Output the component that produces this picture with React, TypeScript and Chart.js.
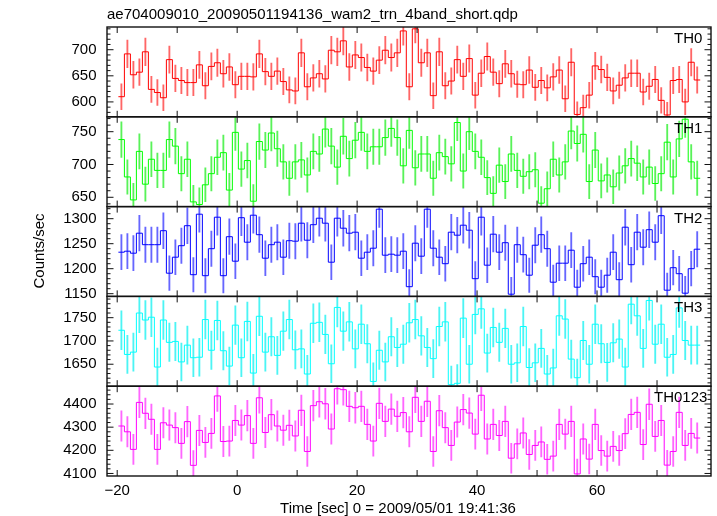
import React, { useEffect, useRef } from 'react';
import { Chart, registerables } from 'chart.js';

Chart.register(...registerables);

const FONT = '"Liberation Sans", Arial, Helvetica, sans-serif';

const TITLE = 'ae704009010_20090501194136_wam2_trn_4band_short.qdp';
const X_TITLE = 'Time [sec] 0 = 2009/05/01 19:41:36';
const Y_TITLE = 'Counts/sec';

// 1-s bins, left edge of first bin
const BIN_START = -19.8;
const BIN_WIDTH = 1;

const X_MIN = -21.7;
const X_MAX = 79;
const X_TICKS = [-20, -10, 0, 10, 20, 30, 40, 50, 60, 70];
const X_LABELS = [-20, 0, 20, 40, 60];

const PANELS = ['TH0', 'TH1', 'TH2', 'TH3', 'TH0123'];

const TH0 = [
  610, 692, 652, 657, 696, 624, 618, 608, 681, 645,
  641, 637, 637, 671, 631, 668, 675, 654, 667, 633,
  649, 649, 648, 692, 658, 649, 659, 639, 623, 621,
  694, 629, 646, 654, 644, 699, 696, 717, 667, 690,
  685, 666, 659, 680, 699, 685, 694, 736, 629, 740,
  675, 694, 612, 696, 631, 640, 681, 649, 683, 613,
  655, 687, 657, 635, 673, 654, 634, 633, 661, 628,
  641, 627, 648, 661, 606, 676, 576, 589, 613, 669,
  662, 647, 621, 632, 646, 655, 655, 619, 630, 643,
  603, 575, 641, 643, 600, 676, 642,
];

const TH1 = [
  738, 681, 646, 720, 670, 708, 691, 691, 738, 728,
  686, 708, 643, 639, 669, 686, 711, 718, 661, 749,
  693, 706, 644, 735, 722, 748, 724, 704, 679, 704,
  707, 684, 720, 716, 754, 728, 696, 743, 709, 737,
  749, 720, 727, 727, 741, 755, 741, 698, 752, 695,
  716, 716, 679, 718, 712, 701, 764, 690, 750, 720,
  711, 680, 656, 699, 674, 716, 691, 682, 689, 692,
  641, 663, 708, 684, 704, 751, 732, 746, 674, 722,
  675, 684, 666, 687, 698, 709, 702, 681, 696, 671,
  686, 734, 681, 739, 769, 704, 679,
];

const TH2 = [
  1233, 1235, 1231, 1271, 1248, 1248, 1248, 1276, 1191, 1223,
  1246, 1286, 1188, 1309, 1186, 1240, 1303, 1186, 1264, 1215,
  1302, 1253, 1307, 1268, 1221, 1248, 1253, 1223, 1256, 1255,
  1291, 1257, 1288, 1301, 1291, 1213, 1301, 1281, 1271, 1273,
  1221, 1233, 1241, 1319, 1227, 1229, 1227, 1235, 1164, 1251,
  1225, 1319, 1241, 1223, 1210, 1273, 1267, 1287, 1277, 1180,
  1303, 1207, 1269, 1233, 1252, 1149, 1248, 1228, 1187, 1247,
  1268, 1240, 1173, 1211, 1211, 1237, 1163, 1210, 1223, 1184,
  1163, 1187, 1233, 1178, 1283, 1208, 1273, 1243, 1278, 1253,
  1306, 1157, 1202, 1190, 1151, 1200, 1239,
];

const TH3 = [
  1723, 1671, 1676, 1760, 1745, 1751, 1644, 1745, 1697, 1699,
  1655, 1691, 1664, 1665, 1746, 1680, 1744, 1679, 1646, 1734,
  1664, 1742, 1631, 1753, 1676, 1709, 1669, 1721, 1746, 1681,
  1683, 1629, 1738, 1740, 1714, 1651, 1772, 1721, 1741, 1683,
  1736, 1694, 1613, 1680, 1655, 1709, 1686, 1693, 1739, 1746,
  1711, 1686, 1662, 1731, 1741, 1606, 1609, 1749, 1650, 1757,
  1769, 1674, 1729, 1697, 1727, 1650, 1653, 1731, 1643, 1653,
  1684, 1629, 1642, 1754, 1747, 1661, 1621, 1701, 1650, 1736,
  1694, 1654, 1696, 1704, 1644, 1779, 1754, 1684, 1787, 1693,
  1736, 1665, 1671, 1771, 1701, 1691, 1691,
];

const TH0123 = [
  4305, 4280, 4204, 4407, 4360, 4334, 4204, 4319, 4309, 4298,
  4230, 4324, 4135, 4286, 4234, 4273, 4435, 4238, 4240, 4329,
  4309, 4350, 4230, 4427, 4277, 4354, 4305, 4287, 4308, 4262,
  4373, 4195, 4393, 4410, 4401, 4292, 4466, 4462, 4390, 4384,
  4390, 4312, 4240, 4403, 4325, 4378, 4347, 4363, 4280, 4429,
  4325, 4412, 4195, 4371, 4298, 4221, 4322, 4376, 4361, 4270,
  4438, 4249, 4312, 4264, 4325, 4166, 4228, 4275, 4182, 4221,
  4236, 4161, 4175, 4312, 4270, 4325, 4098, 4249, 4162, 4312,
  4199, 4175, 4217, 4199, 4272, 4355, 4364, 4225, 4399, 4260,
  4329, 4136, 4195, 4364, 4221, 4273, 4253,
];

const SERIES = [TH0, TH1, TH2, TH3, TH0123];

const Y_MIN = [571.5, 635.8, 1144.6, 1602.8, 4089];
const Y_MAX = [743.5, 772.7, 1324.2, 1795.7, 4477];
const Y_MINOR = [10, 10, 10, 10, 20];
const Y_LABELS = [
  [600, 650, 700],
  [650, 700, 750],
  [1150, 1200, 1250, 1300],
  [1650, 1700, 1750],
  [4100, 4200, 4300, 4400],
];

const LINE_COLORS = ['#ff0000', '#00ff00', '#0000ff', '#00ffff', '#ff00ff'];
const ERR_COLORS = [
  'rgba(255,0,0,0.6)',
  'rgba(0,235,0,0.65)',
  'rgba(0,0,255,0.6)',
  'rgba(0,240,240,0.7)',
  'rgba(255,0,255,0.6)',
];
const PANEL_LABEL_X = [674, 674, 674, 674, 654];

const fmtX = (v: number) => (v < 0 ? '\u2212' + Math.abs(v) : String(v));

function minorTicks(min: number, max: number, step: number) {
  const out: number[] = [];
  for (let v = Math.ceil(min / step) * step; v <= max + 1e-9; v += step) {
    out.push(Math.round(v * 1000) / 1000);
  }
  return out;
}

const framePlugin = {
  id: 'qdpFrame',
  afterDatasetsDraw(chart: any) {
    const ctx = chart.ctx as CanvasRenderingContext2D;
    const { left, right } = chart.chartArea;
    const xs = chart.scales.x;
    ctx.save();
    ctx.strokeStyle = '#111';
    ctx.fillStyle = '#000';
    PANELS.forEach((name, p) => {
      const ys = chart.scales['y' + p];
      const top = ys.top;
      const bottom = ys.bottom;
      ctx.lineWidth = 1;
      ctx.beginPath();
      ys.ticks.forEach((t: any) => {
        const py = ys.getPixelForValue(t.value);
        const major = Y_LABELS[p].includes(t.value) || Math.abs(t.value % (Y_MINOR[p] * 5)) < 1e-6;
        const len = major ? 6.5 : 3.5;
        ctx.moveTo(left, py);
        ctx.lineTo(left + len, py);
        ctx.moveTo(right, py);
        ctx.lineTo(right - len, py);
      });
      xs.ticks.forEach((t: any) => {
        const px = xs.getPixelForValue(t.value);
        ctx.moveTo(px, top);
        ctx.lineTo(px, top + 6);
        ctx.moveTo(px, bottom);
        ctx.lineTo(px, bottom - 6);
      });
      ctx.stroke();
      ctx.lineWidth = 1.4;
      ctx.strokeRect(left, top, right - left, bottom - top);
      ctx.font = `15px ${FONT}`;
      ctx.textAlign = 'left';
      ctx.textBaseline = 'alphabetic';
      ctx.fillText(name, PANEL_LABEL_X[p], top + 16);
    });
    ctx.font = `15px ${FONT}`;
    ctx.textAlign = 'left';
    ctx.textBaseline = 'alphabetic';
    ctx.fillText(TITLE, left, 18.5);
    ctx.textAlign = 'center';
    ctx.fillText(X_TITLE, 398, 513);
    ctx.translate(40, 251);
    ctx.rotate(-Math.PI / 2);
    ctx.textBaseline = 'middle';
    ctx.fillText(Y_TITLE, 0, 0);
    ctx.restore();
  },
};

function buildConfig(): any {
  const datasets: any[] = [];
  SERIES.forEach((vals, p) => {
    const steps = vals.map((v, i) => ({ x: BIN_START + i * BIN_WIDTH, y: v }));
    steps.push({ x: BIN_START + vals.length * BIN_WIDTH, y: vals[vals.length - 1] });
    datasets.push({
      type: 'line',
      label: PANELS[p],
      data: steps,
      yAxisID: 'y' + p,
      stepped: true,
      borderColor: LINE_COLORS[p],
      borderWidth: 1,
      pointRadius: 0,
      fill: false,
      order: 0,
    });
    datasets.push({
      type: 'bar',
      label: PANELS[p] + ' err',
      data: vals.map((v, i) => ({
        x: BIN_START + (i + 0.5) * BIN_WIDTH,
        y: [v - Math.sqrt(v), v + Math.sqrt(v)],
      })),
      yAxisID: 'y' + p,
      grouped: false,
      barThickness: 1.2,
      maxBarThickness: 1.2,
      backgroundColor: ERR_COLORS[p],
      borderWidth: 0,
      order: 1,
    });
  });

  const scales: any = {
    x: {
      type: 'linear',
      position: 'bottom',
      min: X_MIN,
      max: X_MAX,
      bounds: 'data',
      offset: false,
      grid: { display: false, drawTicks: false },
      border: { display: false },
      afterBuildTicks: (s: any) => {
        s.ticks = X_TICKS.map((v) => ({ value: v }));
      },
      afterFit: (s: any) => {
        s.height = 40;
      },
      ticks: {
        autoSkip: false,
        maxRotation: 0,
        minRotation: 0,
        padding: 6,
        color: '#000',
        font: { size: 15, family: FONT },
        callback: (v: any) => (X_LABELS.includes(Number(v)) ? fmtX(Number(v)) : ''),
      },
    },
  };
  for (let p = PANELS.length - 1; p >= 0; p--) {
    const tickVals = minorTicks(Y_MIN[p], Y_MAX[p], Y_MINOR[p]);
    scales['y' + p] = {
      type: 'linear',
      position: 'left',
      stack: 'panels',
      stackWeight: 1,
      min: Y_MIN[p],
      max: Y_MAX[p],
      bounds: 'data',
      offset: false,
      grid: { display: false, drawTicks: false },
      border: { display: false },
      afterBuildTicks: (s: any) => {
        s.ticks = tickVals.map((v) => ({ value: v }));
      },
      afterFit: (s: any) => {
        s.width = 107;
      },
      ticks: {
        autoSkip: false,
        padding: 10.5,
        color: '#000',
        font: { size: 15, family: FONT },
        callback: (v: any) => (Y_LABELS[p].includes(Number(v)) ? String(v) : ''),
      },
    };
  }

  return {
    type: 'line',
    data: { datasets },
    options: {
      responsive: false,
      animation: false,
      devicePixelRatio: 1,
      layout: { padding: { top: 27, right: 6, bottom: 0, left: 0 } },
      plugins: {
        legend: { display: false },
        tooltip: { enabled: false },
        title: { display: false },
      },
      scales,
    },
    plugins: [framePlugin],
  };
}

export default function App() {
  const ref = useRef<HTMLCanvasElement | null>(null);
  useEffect(() => {
    if (!ref.current) return;
    Chart.defaults.font.family = FONT;
    const chart = new Chart(ref.current, buildConfig());
    return () => chart.destroy();
  }, []);
  return (
    <div style={{ position: 'fixed', left: 0, top: 0, width: 717, height: 516, background: '#fff' }}>
      <canvas ref={ref} width={717} height={516} style={{ display: 'block', width: 717, height: 516 }} />
    </div>
  );
}
